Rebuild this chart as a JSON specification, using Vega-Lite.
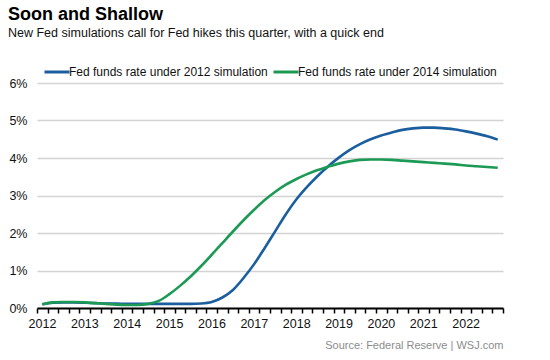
{
  "$schema": "https://vega.github.io/schema/vega-lite/v6.json",
  "autosize": "none",
  "width": 466,
  "height": 225,
  "padding": {"left": 37, "top": 83, "right": 47, "bottom": 52},
  "background": "white",
  "config": {
    "font": "Liberation Sans",
    "view": {"stroke": null}
  },
  "title": {
    "text": "Soon and Shallow",
    "subtitle": "New Fed simulations call for Fed hikes this quarter, with a quick end",
    "anchor": "start",
    "frame": "group",
    "dx": -29,
    "offset": 19,
    "fontSize": 18,
    "fontWeight": "bold",
    "color": "#000000",
    "subtitleFontSize": 12.5,
    "subtitleColor": "#111111",
    "subtitlePadding": 3
  },
  "data": {
    "values": [
      {"t": 2012.125, "v": 0.10, "s": "Fed funds rate under 2012 simulation"},
      {"t": 2012.375, "v": 0.14, "s": "Fed funds rate under 2012 simulation"},
      {"t": 2012.625, "v": 0.15, "s": "Fed funds rate under 2012 simulation"},
      {"t": 2012.875, "v": 0.15, "s": "Fed funds rate under 2012 simulation"},
      {"t": 2013.125, "v": 0.14, "s": "Fed funds rate under 2012 simulation"},
      {"t": 2013.375, "v": 0.13, "s": "Fed funds rate under 2012 simulation"},
      {"t": 2013.625, "v": 0.12, "s": "Fed funds rate under 2012 simulation"},
      {"t": 2013.875, "v": 0.12, "s": "Fed funds rate under 2012 simulation"},
      {"t": 2014.125, "v": 0.11, "s": "Fed funds rate under 2012 simulation"},
      {"t": 2014.375, "v": 0.11, "s": "Fed funds rate under 2012 simulation"},
      {"t": 2014.625, "v": 0.11, "s": "Fed funds rate under 2012 simulation"},
      {"t": 2014.875, "v": 0.11, "s": "Fed funds rate under 2012 simulation"},
      {"t": 2015.125, "v": 0.11, "s": "Fed funds rate under 2012 simulation"},
      {"t": 2015.375, "v": 0.11, "s": "Fed funds rate under 2012 simulation"},
      {"t": 2015.625, "v": 0.11, "s": "Fed funds rate under 2012 simulation"},
      {"t": 2015.875, "v": 0.12, "s": "Fed funds rate under 2012 simulation"},
      {"t": 2016.125, "v": 0.16, "s": "Fed funds rate under 2012 simulation"},
      {"t": 2016.375, "v": 0.28, "s": "Fed funds rate under 2012 simulation"},
      {"t": 2016.625, "v": 0.48, "s": "Fed funds rate under 2012 simulation"},
      {"t": 2016.875, "v": 0.80, "s": "Fed funds rate under 2012 simulation"},
      {"t": 2017.125, "v": 1.17, "s": "Fed funds rate under 2012 simulation"},
      {"t": 2017.375, "v": 1.60, "s": "Fed funds rate under 2012 simulation"},
      {"t": 2017.625, "v": 2.05, "s": "Fed funds rate under 2012 simulation"},
      {"t": 2017.875, "v": 2.50, "s": "Fed funds rate under 2012 simulation"},
      {"t": 2018.125, "v": 2.90, "s": "Fed funds rate under 2012 simulation"},
      {"t": 2018.375, "v": 3.23, "s": "Fed funds rate under 2012 simulation"},
      {"t": 2018.625, "v": 3.52, "s": "Fed funds rate under 2012 simulation"},
      {"t": 2018.875, "v": 3.78, "s": "Fed funds rate under 2012 simulation"},
      {"t": 2019.125, "v": 4.01, "s": "Fed funds rate under 2012 simulation"},
      {"t": 2019.375, "v": 4.21, "s": "Fed funds rate under 2012 simulation"},
      {"t": 2019.625, "v": 4.37, "s": "Fed funds rate under 2012 simulation"},
      {"t": 2019.875, "v": 4.50, "s": "Fed funds rate under 2012 simulation"},
      {"t": 2020.125, "v": 4.60, "s": "Fed funds rate under 2012 simulation"},
      {"t": 2020.375, "v": 4.68, "s": "Fed funds rate under 2012 simulation"},
      {"t": 2020.625, "v": 4.75, "s": "Fed funds rate under 2012 simulation"},
      {"t": 2020.875, "v": 4.79, "s": "Fed funds rate under 2012 simulation"},
      {"t": 2021.125, "v": 4.81, "s": "Fed funds rate under 2012 simulation"},
      {"t": 2021.375, "v": 4.81, "s": "Fed funds rate under 2012 simulation"},
      {"t": 2021.625, "v": 4.79, "s": "Fed funds rate under 2012 simulation"},
      {"t": 2021.875, "v": 4.76, "s": "Fed funds rate under 2012 simulation"},
      {"t": 2022.125, "v": 4.71, "s": "Fed funds rate under 2012 simulation"},
      {"t": 2022.375, "v": 4.65, "s": "Fed funds rate under 2012 simulation"},
      {"t": 2022.625, "v": 4.58, "s": "Fed funds rate under 2012 simulation"},
      {"t": 2022.875, "v": 4.49, "s": "Fed funds rate under 2012 simulation"},
      {"t": 2012.125, "v": 0.10, "s": "Fed funds rate under 2014 simulation"},
      {"t": 2012.375, "v": 0.15, "s": "Fed funds rate under 2014 simulation"},
      {"t": 2012.625, "v": 0.16, "s": "Fed funds rate under 2014 simulation"},
      {"t": 2012.875, "v": 0.16, "s": "Fed funds rate under 2014 simulation"},
      {"t": 2013.125, "v": 0.15, "s": "Fed funds rate under 2014 simulation"},
      {"t": 2013.375, "v": 0.13, "s": "Fed funds rate under 2014 simulation"},
      {"t": 2013.625, "v": 0.11, "s": "Fed funds rate under 2014 simulation"},
      {"t": 2013.875, "v": 0.09, "s": "Fed funds rate under 2014 simulation"},
      {"t": 2014.125, "v": 0.08, "s": "Fed funds rate under 2014 simulation"},
      {"t": 2014.375, "v": 0.08, "s": "Fed funds rate under 2014 simulation"},
      {"t": 2014.625, "v": 0.11, "s": "Fed funds rate under 2014 simulation"},
      {"t": 2014.875, "v": 0.19, "s": "Fed funds rate under 2014 simulation"},
      {"t": 2015.125, "v": 0.37, "s": "Fed funds rate under 2014 simulation"},
      {"t": 2015.375, "v": 0.59, "s": "Fed funds rate under 2014 simulation"},
      {"t": 2015.625, "v": 0.84, "s": "Fed funds rate under 2014 simulation"},
      {"t": 2015.875, "v": 1.12, "s": "Fed funds rate under 2014 simulation"},
      {"t": 2016.125, "v": 1.42, "s": "Fed funds rate under 2014 simulation"},
      {"t": 2016.375, "v": 1.73, "s": "Fed funds rate under 2014 simulation"},
      {"t": 2016.625, "v": 2.04, "s": "Fed funds rate under 2014 simulation"},
      {"t": 2016.875, "v": 2.34, "s": "Fed funds rate under 2014 simulation"},
      {"t": 2017.125, "v": 2.62, "s": "Fed funds rate under 2014 simulation"},
      {"t": 2017.375, "v": 2.88, "s": "Fed funds rate under 2014 simulation"},
      {"t": 2017.625, "v": 3.10, "s": "Fed funds rate under 2014 simulation"},
      {"t": 2017.875, "v": 3.29, "s": "Fed funds rate under 2014 simulation"},
      {"t": 2018.125, "v": 3.44, "s": "Fed funds rate under 2014 simulation"},
      {"t": 2018.375, "v": 3.57, "s": "Fed funds rate under 2014 simulation"},
      {"t": 2018.625, "v": 3.68, "s": "Fed funds rate under 2014 simulation"},
      {"t": 2018.875, "v": 3.77, "s": "Fed funds rate under 2014 simulation"},
      {"t": 2019.125, "v": 3.85, "s": "Fed funds rate under 2014 simulation"},
      {"t": 2019.375, "v": 3.91, "s": "Fed funds rate under 2014 simulation"},
      {"t": 2019.625, "v": 3.95, "s": "Fed funds rate under 2014 simulation"},
      {"t": 2019.875, "v": 3.96, "s": "Fed funds rate under 2014 simulation"},
      {"t": 2020.125, "v": 3.96, "s": "Fed funds rate under 2014 simulation"},
      {"t": 2020.375, "v": 3.95, "s": "Fed funds rate under 2014 simulation"},
      {"t": 2020.625, "v": 3.93, "s": "Fed funds rate under 2014 simulation"},
      {"t": 2020.875, "v": 3.91, "s": "Fed funds rate under 2014 simulation"},
      {"t": 2021.125, "v": 3.89, "s": "Fed funds rate under 2014 simulation"},
      {"t": 2021.375, "v": 3.87, "s": "Fed funds rate under 2014 simulation"},
      {"t": 2021.625, "v": 3.85, "s": "Fed funds rate under 2014 simulation"},
      {"t": 2021.875, "v": 3.83, "s": "Fed funds rate under 2014 simulation"},
      {"t": 2022.125, "v": 3.80, "s": "Fed funds rate under 2014 simulation"},
      {"t": 2022.375, "v": 3.78, "s": "Fed funds rate under 2014 simulation"},
      {"t": 2022.625, "v": 3.76, "s": "Fed funds rate under 2014 simulation"},
      {"t": 2022.875, "v": 3.74, "s": "Fed funds rate under 2014 simulation"}
    ]
  },
  "mark": {"type": "line", "interpolate": "monotone", "strokeWidth": 2.6},
  "encoding": {
    "x": {
      "field": "t",
      "type": "quantitative",
      "scale": {"domain": [2012, 2023], "nice": false, "zero": false},
      "axis": {
        "title": "Source: Federal Reserve  |  WSJ.com",
        "titleAnchor": "end",
        "titleAlign": "right",
        "titleFontSize": 11,
        "titleFontWeight": "normal",
        "titleColor": "#8c8c8c",
        "titlePadding": 10,
        "values": [2012, 2012.25, 2012.5, 2012.75, 2013, 2013.25, 2013.5, 2013.75, 2014, 2014.25, 2014.5, 2014.75, 2015, 2015.25, 2015.5, 2015.75, 2016, 2016.25, 2016.5, 2016.75, 2017, 2017.25, 2017.5, 2017.75, 2018, 2018.25, 2018.5, 2018.75, 2019, 2019.25, 2019.5, 2019.75, 2020, 2020.25, 2020.5, 2020.75, 2021, 2021.25, 2021.5, 2021.75, 2022, 2022.25, 2022.5, 2022.75, 2023],
        "labelExpr": "(datum.value % 1 == 0 && datum.value < 2023) ? ('' + datum.value) : ''",
        "labelOverlap": false,
        "labelOffset": 5,
        "labelFontSize": 12.5,
        "labelColor": "#111111",
        "labelPadding": 4,
        "labelFlush": false,
        "grid": false,
        "domainColor": "#000000",
        "domainWidth": 2,
        "tickColor": "#000000",
        "tickWidth": 1.5,
        "tickSize": 5
      }
    },
    "y": {
      "field": "v",
      "type": "quantitative",
      "scale": {"domain": [0, 6], "nice": false},
      "axis": {
        "title": null,
        "values": [0, 1, 2, 3, 4, 5, 6],
        "labelExpr": "datum.value + '%'",
        "labelFontSize": 12.5,
        "labelColor": "#111111",
        "labelPadding": 10,
        "domain": false,
        "ticks": false,
        "grid": true,
        "gridColor": "#d3d3d3",
        "gridWidth": 1.5
      }
    },
    "color": {
      "field": "s",
      "type": "nominal",
      "scale": {
        "domain": ["Fed funds rate under 2012 simulation", "Fed funds rate under 2014 simulation"],
        "range": ["#1b5e9e", "#1c9a55"]
      },
      "legend": {
        "title": null,
        "orient": "none",
        "legendX": 6,
        "legendY": -25,
        "direction": "horizontal",
        "symbolType": "stroke",
        "symbolSize": 625,
        "symbolStrokeWidth": 3,
        "labelFontSize": 12,
        "labelColor": "#111111",
        "labelLimit": 400,
        "labelOffset": -2,
        "columnPadding": -1
      }
    }
  }
}
